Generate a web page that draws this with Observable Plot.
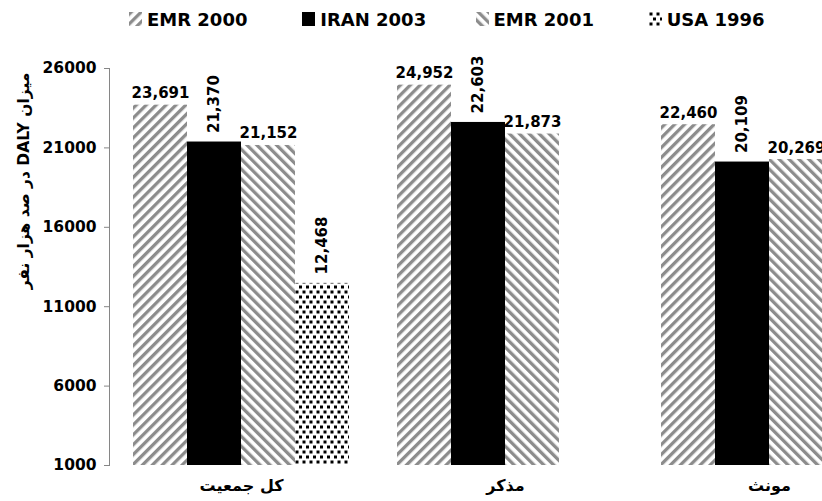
<!DOCTYPE html>
<html><head><meta charset="utf-8">
<script src="https://cdn.jsdelivr.net/npm/d3@7"></script>
<script src="https://cdn.jsdelivr.net/npm/@observablehq/plot@0.6"></script>
<style>
html,body{margin:0;padding:0;background:#fff;overflow:hidden;width:822px;height:501px}
#legend{position:relative;height:40px;padding-left:129px;display:flex;box-sizing:border-box;
  font:bold 18px "DejaVu Sans",sans-serif;color:#000}
.item{width:182px;display:flex;align-items:center;gap:5px;height:38px}
.item svg{display:block}
#defs{position:absolute;width:0;height:0;overflow:hidden}
</style></head><body>
<svg id="defs" width="0" height="0">
  <defs>
    <pattern id="pFwd" patternUnits="userSpaceOnUse" width="7" height="7" patternTransform="rotate(45)">
      <rect width="7" height="7" fill="#fff"/><rect x="0" width="3.3" height="7" fill="#8c8c8c"/>
    </pattern>
    <pattern id="pBack" patternUnits="userSpaceOnUse" width="7" height="7" patternTransform="rotate(-45)">
      <rect width="7" height="7" fill="#fff"/><rect x="0" width="3.3" height="7" fill="#8c8c8c"/>
    </pattern>
    <pattern id="pDots" patternUnits="userSpaceOnUse" width="7" height="10">
      <rect width="7" height="10" fill="#fff"/>
      <rect x="0.5" y="0.5" width="3" height="3" fill="#000"/>
      <rect x="4" y="5.5" width="3" height="3" fill="#000"/>
    </pattern>
  </defs>
</svg>
<div id="legend"></div>
<div id="chart"></div>
<script>
// ---- data ----
const categories = ["کل جمعیت", "مذکر", "مونث"];
const series = ["EMR 2000", "IRAN 2003", "EMR 2001", "USA 1996"];
const emr2000 = [23691, 24952, 22460];
const iran2003 = [21370, 22603, 20109];
const emr2001 = [21152, 21873, 20269];
const usa1996 = [12468, null, null];
const yTicks = [1000, 6000, 11000, 16000, 21000, 26000];
const yTitle = "میزان DALY در صد هزار نفر";

const seriesValues = [emr2000, iran2003, emr2001, usa1996];
const fills = ["url(#pFwd)", "#000", "url(#pBack)", "url(#pDots)"];
const rotatedSeries = ["IRAN 2003", "USA 1996"];

const rows = [];
categories.forEach((c, i) => series.forEach((s, j) => {
  const v = seriesValues[j][i];
  if (v != null) rows.push({cat: c, series: s, value: v});
}));
const fmt = d3.format(",");
const base = yTicks[0];

// ---- legend ----
const legend = document.getElementById("legend");
series.forEach((s, j) => {
  const it = document.createElement("div");
  it.className = "item";
  it.innerHTML = `<svg width="13" height="14"><rect width="13" height="14" fill="${fills[j]}"/></svg><span>${s}</span>`;
  legend.appendChild(it);
});

// ---- chart ----
const chart = Plot.plot({
  width: 822,
  height: 461,
  marginTop: 28,
  marginBottom: 36,
  marginLeft: 108,
  marginRight: 0,
  style: {fontFamily: "DejaVu Sans, sans-serif", fontWeight: "bold", fontSize: "15px", overflow: "hidden", background: "#fff", color: "#000"},
  fx: {domain: categories, range: [108, 902], padding: 0, label: null},
  x: {domain: series, paddingInner: 0, paddingOuter: 0.43, axis: null},
  y: {domain: [base, yTicks[yTicks.length - 1]], label: null},
  color: {domain: series, range: fills},
  marks: [
    Plot.barY(rows, {fx: "cat", x: "series", y1: () => base, y2: "value", fill: "series"}),
    Plot.frame({anchor: "left", stroke: "#868686", facetAnchor: "left"}),
    Plot.axisY({ticks: yTicks, tickFormat: d => String(d), tickSize: 5, tickPadding: 8, stroke: "#868686", fill: "#000", fontSize: 15.5, label: null}),
    Plot.axisFx({anchor: "bottom", tickSize: 0, tickPadding: 14, fontSize: 16, label: null}),
    Plot.text(rows.filter(d => !rotatedSeries.includes(d.series)), {
      fx: "cat", x: "series", y: "value", text: d => fmt(d.value),
      dy: -7, lineAnchor: "bottom", fontSize: 15, fontWeight: "bold", fill: "#000"
    }),
    Plot.text(rows.filter(d => rotatedSeries.includes(d.series)), {
      fx: "cat", x: "series", y: "value", text: d => fmt(d.value),
      rotate: -90, textAnchor: "start", lineAnchor: "middle", dy: -9,
      fontSize: 15, fontWeight: "bold", fill: "#000"
    }),
    Plot.text([yTitle], {
      text: d => "\u202B" + d + "\u202C", frameAnchor: "left", facetAnchor: "left",
      textAnchor: "middle", lineAnchor: "middle",
      rotate: -90, dx: -85, dy: -86, fontSize: 15.5, fontWeight: "bold", fill: "#000"
    })
  ]
});
document.getElementById("chart").appendChild(chart);
</script>
</body></html>
